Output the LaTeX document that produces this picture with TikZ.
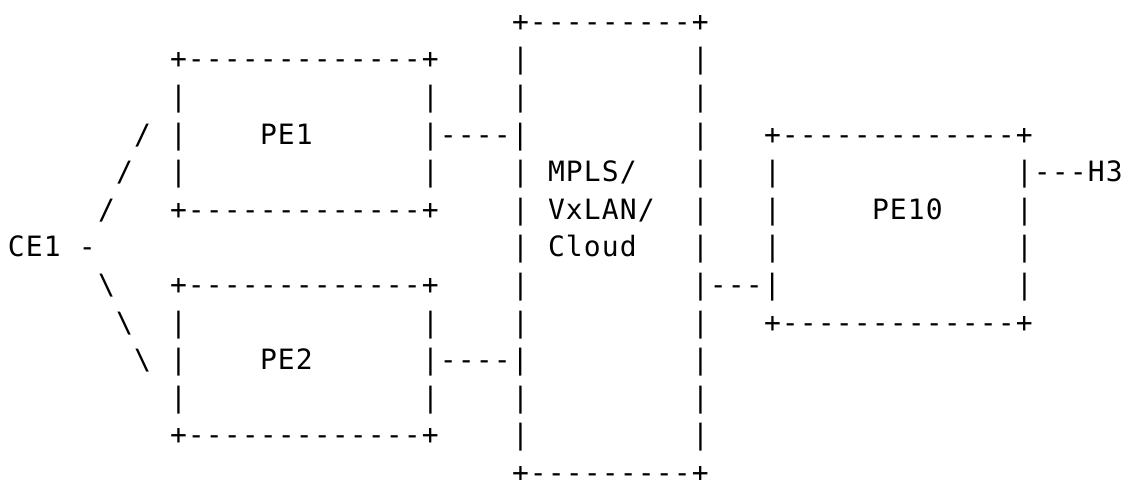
\documentclass[tikz,border=0pt]{standalone}
\usepackage{fontspec}
% monospaced face, spaced so that one column is exactly 9pt wide
\newfontfamily\asciifont[LetterSpace=4.07]{DejaVu Sans Mono}
\begin{document}
\begin{tikzpicture}[
  x=1pt, y=1pt,
  art/.style={anchor=base west, inner sep=0pt, outer sep=0pt,
              font=\asciifont\fontsize{14}{14}\selectfont, text=black}
]
\useasboundingbox (0,0) rectangle (562,-239.5);
% place a run of characters at column #2, text row #3
\newcommand\asc[4]{\node[art] (#1) at ({4+9*#2},{-15.6-18.8*#3}) {#4};}
% row 0
\asc{cloudtop}{28}{0}{+---------+}
% row 1
\asc{peonetop}{9}{1}{+-------------+}
\asc{cloudLa}{28}{1}{|}
\asc{cloudRa}{38}{1}{|}
% row 2
\asc{peoneLa}{9}{2}{|}
\asc{peoneRa}{23}{2}{|}
\asc{cloudLb}{28}{2}{|}
\asc{cloudRb}{38}{2}{|}
% row 3
\asc{upc}{7}{3}{/}
\asc{peoneLb}{9}{3}{|}
\asc{peone}{14}{3}{PE1}
\asc{linkone}{23}{3}{|----|}
\asc{cloudRc}{38}{3}{|}
\asc{petentop}{42}{3}{+-------------+}
% row 4
\asc{upb}{6}{4}{/}
\asc{peoneLc}{9}{4}{|}
\asc{peoneRc}{23}{4}{|}
\asc{cloudLd}{28}{4}{|}
\asc{mpls}{30}{4}{MPLS/}
\asc{cloudRd}{38}{4}{|}
\asc{petenLa}{42}{4}{|}
\asc{hostlink}{56}{4}{|---H3}
% row 5
\asc{upa}{5}{5}{/}
\asc{peonebot}{9}{5}{+-------------+}
\asc{cloudLe}{28}{5}{|}
\asc{vxlan}{30}{5}{VxLAN/}
\asc{cloudRe}{38}{5}{|}
\asc{petenLb}{42}{5}{|}
\asc{peten}{48}{5}{PE10}
\asc{petenRb}{56}{5}{|}
% row 6
\asc{ce}{0}{6}{CE1 -}
\asc{cloudLf}{28}{6}{|}
\asc{cloudtxt}{30}{6}{Cloud}
\asc{cloudRf}{38}{6}{|}
\asc{petenLc}{42}{6}{|}
\asc{petenRc}{56}{6}{|}
% row 7
\asc{downa}{5}{7}{\textbackslash}
\asc{petwotop}{9}{7}{+-------------+}
\asc{cloudLg}{28}{7}{|}
\asc{linkten}{38}{7}{|---|}
\asc{petenRd}{56}{7}{|}
% row 8
\asc{downb}{6}{8}{\textbackslash}
\asc{petwoLa}{9}{8}{|}
\asc{petwoRa}{23}{8}{|}
\asc{cloudLh}{28}{8}{|}
\asc{cloudRh}{38}{8}{|}
\asc{petenbot}{42}{8}{+-------------+}
% row 9
\asc{downc}{7}{9}{\textbackslash}
\asc{petwoLb}{9}{9}{|}
\asc{petwo}{14}{9}{PE2}
\asc{linktwo}{23}{9}{|----|}
\asc{cloudRi}{38}{9}{|}
% row 10
\asc{petwoLc}{9}{10}{|}
\asc{petwoRc}{23}{10}{|}
\asc{cloudLj}{28}{10}{|}
\asc{cloudRj}{38}{10}{|}
% row 11
\asc{petwobot}{9}{11}{+-------------+}
\asc{cloudLk}{28}{11}{|}
\asc{cloudRk}{38}{11}{|}
% row 12
\asc{cloudbot}{28}{12}{+---------+}
\end{tikzpicture}
\end{document}
